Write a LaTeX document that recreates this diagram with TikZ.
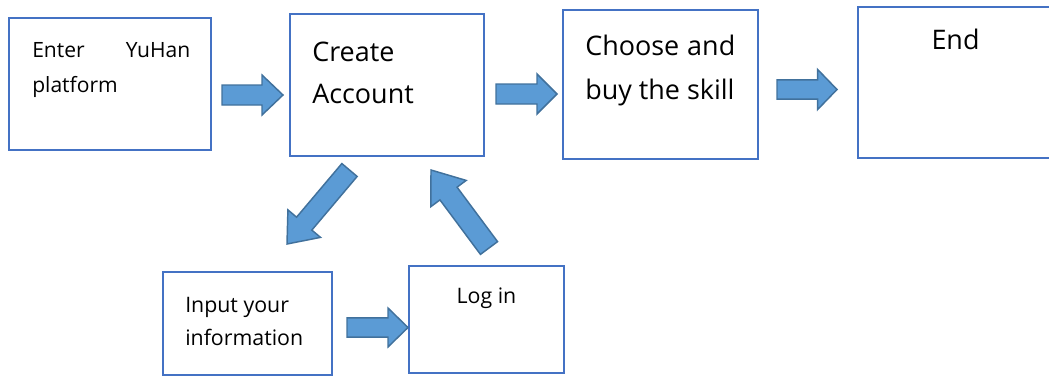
\documentclass[tikz,border=0pt]{standalone}
\usepackage{fontspec}
\setmainfont{Open Sans}
\usetikzlibrary{calc}
\definecolor{boxblue}{HTML}{4472C4}
\definecolor{arrfill}{HTML}{5B9BD5}
\definecolor{arrline}{HTML}{41719C}
\tikzset{
  flowbox/.style={draw=boxblue, line width=1.4pt, inner sep=0pt, outer sep=0pt, rectangle},
  blockarr/.style={fill=arrfill, draw=arrline, line width=1.1pt, line join=miter},
  bigtxt/.style={font=\fontsize{20.2pt}{24pt}\selectfont, inner sep=0pt, anchor=base west},
  smalltxt/.style={font=\fontsize{15.8pt}{19pt}\selectfont, inner sep=0pt, anchor=base west},
  midtxt/.style={font=\fontsize{16pt}{19pt}\selectfont, inner sep=0pt, anchor=base west}
}
% name, tail, tip, shaft half width, head half width, head length
\newcommand{\blockarrow}[6]{%
  \coordinate (#1h) at ($(#3)!#6!(#2)$);
  \path[blockarr] ($(#2)!#4!90:(#3)$) -- ($(#1h)!#4!90:(#3)$) -- ($(#1h)!#5!90:(#3)$) -- (#3)
    -- ($(#1h)!#5!-90:(#3)$) -- ($(#1h)!#4!-90:(#3)$) -- ($(#2)!#4!-90:(#3)$) -- cycle;}
\begin{document}
\begin{tikzpicture}[x=0.75pt,y=-0.75pt]
\useasboundingbox (0,0) rectangle (1049,376);
% boxes
\node[flowbox, minimum width=151.5pt, minimum height=99pt] (enter) at (110,84) {};
\node[flowbox, minimum width=145.5pt, minimum height=106.5pt] (create) at (387,85) {};
\node[flowbox, minimum width=146.25pt, minimum height=111.75pt] (choose) at (660.5,84.5) {};
\node[flowbox, minimum width=146.25pt, minimum height=113.25pt] (end) at (955.5,82.5) {};
\node[flowbox, minimum width=126.75pt, minimum height=77.25pt] (input) at (247.5,323.5) {};
\node[flowbox, minimum width=116.25pt, minimum height=80.25pt] (login) at (486.5,319.5) {};
% texts
\node[smalltxt] (t1a) at (32,57) {\hbox to 118.5pt{Enter\hfill YuHan}};
\node[smalltxt] (t1b) at (32,92) {platform};
\node[bigtxt] (t2a) at (312,61) {Create};
\node[bigtxt] (t2b) at (312,103) {Account};
\node[bigtxt] (t3a) at (585,55) {\hbox to 112.5pt{Choose\hfill and}};
\node[bigtxt] (t3b) at (585,99) {buy the skill};
\node[bigtxt, anchor=base] (t4) at (955.5,49) {End};
\node[midtxt] (t5a) at (185,312) {Input your};
\node[midtxt] (t5b) at (185,345) {information};
\node[midtxt, anchor=base] (t6) at (486.5,303) {Log in};
% arrow end points
\coordinate (a1t) at (222,95);   \coordinate (a1p) at (283,95);
\coordinate (a2t) at (496,94);   \coordinate (a2p) at (557,94);
\coordinate (a3t) at (777,89.5); \coordinate (a3p) at (837,89.5);
\coordinate (a4t) at (347,327.5);\coordinate (a4p) at (408,327.5);
\coordinate (a5t) at (349.5,170);\coordinate (a5p) at (287,244);
\coordinate (a6t) at (489,248);  \coordinate (a6p) at (431,170);
\blockarrow{a1}{a1t}{a1p}{7.5pt}{15pt}{15.75pt}
\blockarrow{a2}{a2t}{a2p}{7.5pt}{15pt}{15pt}
\blockarrow{a3}{a3t}{a3p}{7.2pt}{15pt}{14.5pt}
\blockarrow{a4}{a4t}{a4p}{7.2pt}{14.6pt}{15pt}
\blockarrow{a5}{a5t}{a5p}{7.5pt}{16pt}{20pt}
\blockarrow{a6}{a6t}{a6p}{8pt}{16.5pt}{22pt}
\end{tikzpicture}
\end{document}
